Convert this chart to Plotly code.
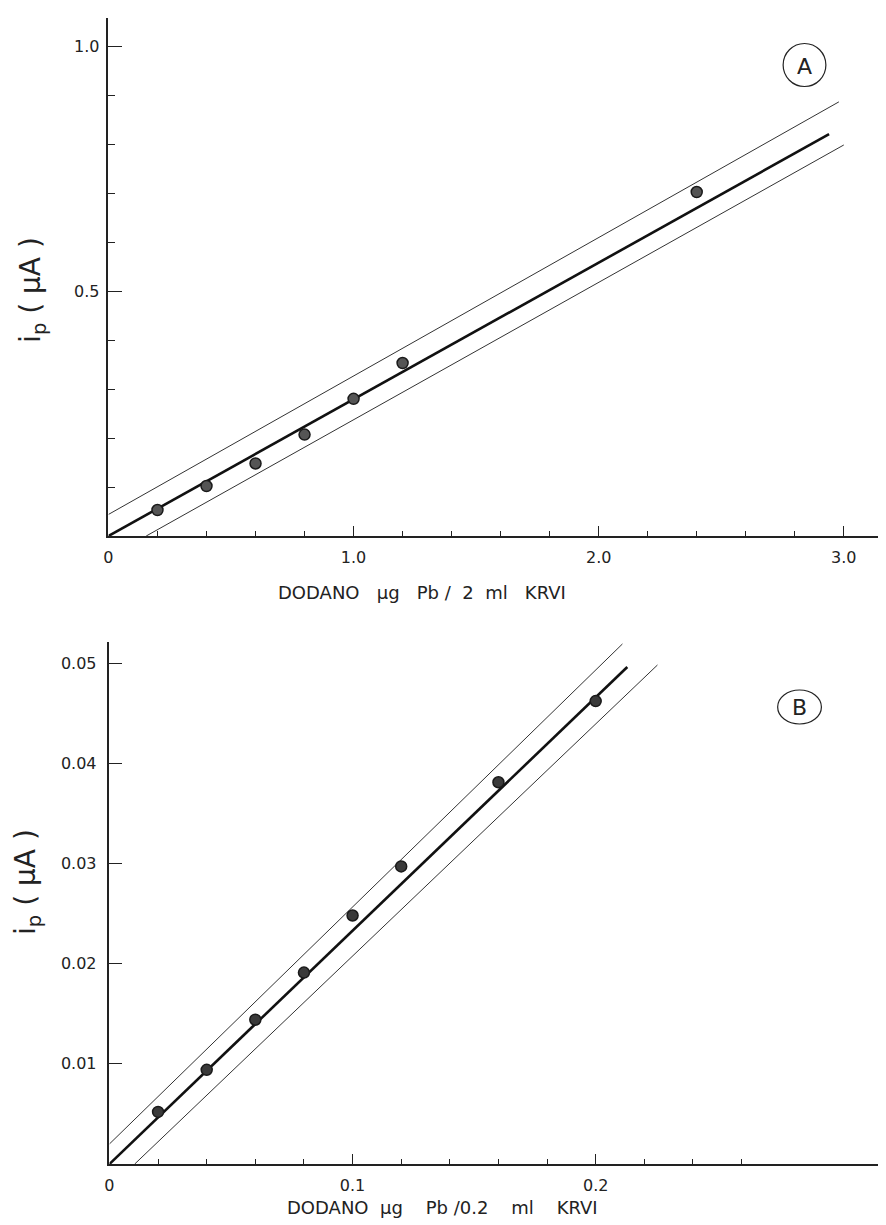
import plotly.graph_objects as go

# ---- Panel A data ----
a_x = [0.2, 0.4, 0.6, 0.8, 1.0, 1.2, 2.4]
a_y = [0.053, 0.102, 0.148, 0.207, 0.280, 0.353, 0.702]
a_fit_x = [0.0, 2.94]
a_fit_y = [0.0, 0.820]
a_up_x = [0.0, 2.98]
a_up_y = [0.044, 0.886]
a_lo_x = [0.154, 3.0]
a_lo_y = [0.0, 0.798]
a_xticks = [0, 1, 2, 3]
a_xlabels = ["0", "1.0", "2.0", "3.0"]
a_xminor = [0.2, 0.4, 0.6, 0.8, 1.2, 1.4, 1.6, 1.8, 2.2, 2.4, 2.6, 2.8]
a_yticks = [0.5, 1.0]
a_ylabels = ["0.5", "1.0"]
a_yminor = [0.1, 0.2, 0.3, 0.4, 0.6, 0.7, 0.8, 0.9]

# ---- Panel B data ----
b_x = [0.02, 0.04, 0.06, 0.08, 0.10, 0.12, 0.16, 0.20]
b_y = [0.0052, 0.0094, 0.0144, 0.0191, 0.0248, 0.0297, 0.0381, 0.0462]
b_fit_x = [0.0, 0.213]
b_fit_y = [0.0, 0.0496]
b_up_x = [0.0, 0.211]
b_up_y = [0.0020, 0.0519]
b_lo_x = [0.0104, 0.2254]
b_lo_y = [0.0, 0.0498]
b_xticks = [0, 0.1, 0.2]
b_xlabels = ["0", "0.1", "0.2"]
b_xminor = [0.02, 0.04, 0.06, 0.08, 0.12, 0.14, 0.16, 0.18, 0.22, 0.24, 0.26]
b_yticks = [0.01, 0.02, 0.03, 0.04, 0.05]
b_ylabels = ["0.01", "0.02", "0.03", "0.04", "0.05"]

W, H = 886, 1225
DX, DY = 11, 8          # page offset of the plot div
INK = "#222222"
FONT = "DejaVu Sans"

fig = go.Figure()

def add_panel(xa, ya, fx, fy, ux, uy, lx, ly, px_, py_, mcol):
    fig.add_trace(go.Scatter(x=ux, y=uy, mode="lines", line=dict(color="#333", width=1),
                             xaxis=xa, yaxis=ya, hoverinfo="skip"))
    fig.add_trace(go.Scatter(x=lx, y=ly, mode="lines", line=dict(color="#333", width=1),
                             xaxis=xa, yaxis=ya, hoverinfo="skip"))
    fig.add_trace(go.Scatter(x=fx, y=fy, mode="lines", line=dict(color="#111", width=2.6),
                             xaxis=xa, yaxis=ya))
    fig.add_trace(go.Scatter(x=px_, y=py_, mode="markers",
                             marker=dict(size=11, color=mcol, line=dict(color="#1a1a1a", width=1.5)),
                             xaxis=xa, yaxis=ya))

add_panel("x", "y", a_fit_x, a_fit_y, a_up_x, a_up_y, a_lo_x, a_lo_y, a_x, a_y, "#555555")
add_panel("x2", "y2", b_fit_x, b_fit_y, b_up_x, b_up_y, b_lo_x, b_lo_y, b_x, b_y, "#3a3a3a")

def px(v):
    return (v - DX) / W

def py(v):
    return 1 - (v - DY) / H

tickfont = dict(family=FONT, size=16, color=INK)

axis_common = dict(showgrid=False, zeroline=False, showline=True, linecolor=INK, linewidth=1.5,
                   ticks="inside", tickcolor=INK, tickwidth=1.3, tickfont=tickfont, tickmode="array")

RIGHT = 886
fig.update_layout(
    width=W, height=H, showlegend=False,
    margin=dict(l=0, r=0, t=0, b=0),
    paper_bgcolor="white", plot_bgcolor="white",
    xaxis=dict(axis_common, domain=[px(107), px(RIGHT)], range=[0, (RIGHT - 107) / 246.5],
               tickvals=a_xticks, ticktext=a_xlabels, ticklen=10, anchor="y",
               ticklabelstandoff=6,
               minor=dict(tickmode="array", tickvals=a_xminor, ticks="inside", ticklen=5,
                          tickcolor=INK, tickwidth=1.2, showgrid=False)),
    yaxis=dict(axis_common, domain=[py(536), py(18)], range=[0, (536 - 18) / 490],
               tickvals=a_yticks, ticktext=a_ylabels, ticklen=14, anchor="x",
               ticklabelstandoff=4,
               minor=dict(tickmode="array", tickvals=a_yminor, ticks="inside", ticklen=7,
                          tickcolor=INK, tickwidth=1.2, showgrid=False)),
    xaxis2=dict(axis_common, domain=[px(108), px(RIGHT)], range=[0, (RIGHT - 108) / 2445],
                tickvals=b_xticks, ticktext=b_xlabels, ticklen=10, anchor="y2",
                ticklabelstandoff=6,
                minor=dict(tickmode="array", tickvals=b_xminor, ticks="inside", ticklen=5,
                           tickcolor=INK, tickwidth=1.2, showgrid=False)),
    yaxis2=dict(axis_common, domain=[py(1164), py(642)], range=[0, (1164 - 642) / 10020],
                tickvals=b_yticks, ticktext=b_ylabels, ticklen=13, anchor="x2",
                ticklabelstandoff=8),
)

title_font = dict(family=FONT, size=18, color=INK)
ytitle_font = dict(family=FONT, size=28, color=INK)

S = "&nbsp;"
annotations = [
    dict(x=px(422), y=py(593),
         text="DODANO" + S * 3 + "µg" + S * 3 + "Pb / " + S + "2" + S * 2 + "ml" + S * 3 + "KRVI"),
    dict(x=px(443), y=py(1207),
         text="DODANO" + S * 2 + "µg" + S * 4 + "Pb /0.2" + S * 4 + "ml" + S * 4 + "KRVI"),
]
for a in annotations:
    a.update(xref="paper", yref="paper", showarrow=False, font=title_font,
             xanchor="center", yanchor="middle")
ytitles = [
    dict(x=px(30), y=py(290), text="i<sub>p</sub> ( µA )"),
    dict(x=px(25), y=py(882), text="i<sub>p</sub> ( µA )"),
]
for a in ytitles:
    a.update(xref="paper", yref="paper", showarrow=False, font=ytitle_font, textangle=-90,
             xanchor="center", yanchor="middle")
labels = [
    dict(x=px(807), y=py(66), text="A"),
    dict(x=px(802), y=py(707), text="B"),
]
for a in labels:
    a.update(xref="paper", yref="paper", showarrow=False,
             font=dict(family=FONT, size=22, color=INK), xanchor="center", yanchor="middle")

fig.update_layout(annotations=annotations + ytitles + labels)

fig.add_shape(type="circle", xref="paper", yref="paper",
              x0=px(807 - 21.5), x1=px(807 + 21.5), y0=py(65 + 21.5), y1=py(65 - 21.5),
              line=dict(color=INK, width=1.2))
fig.add_shape(type="circle", xref="paper", yref="paper",
              x0=px(802 - 22), x1=px(802 + 22), y0=py(707 + 17), y1=py(707 - 17),
              line=dict(color=INK, width=1.2))

fig.write_html("out.html")
